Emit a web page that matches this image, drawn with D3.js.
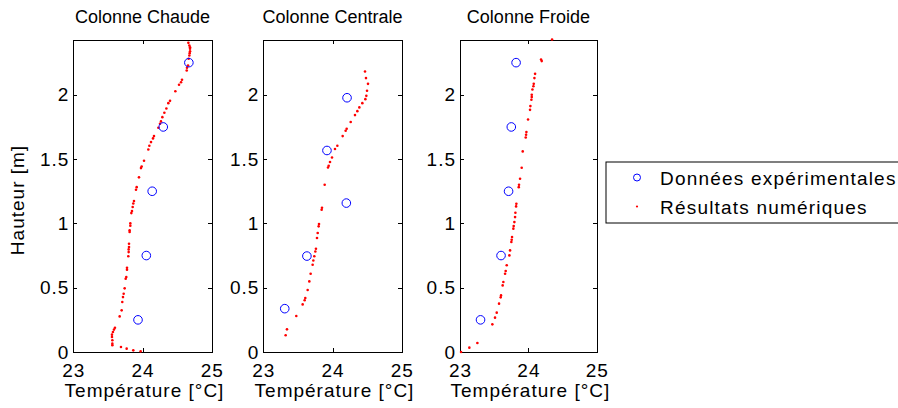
<!DOCTYPE html>
<html lang="fr">
<head>
  <meta charset="UTF-8">
  <title>Températures des colonnes</title>
  <style>
    body { margin: 0; background: #fff; }
    svg { display: block; font-family: "Liberation Sans", Arial, sans-serif; }
    .axis path, .axis line { stroke: #000; stroke-width: 1; shape-rendering: crispEdges; }
    .axis text { font-size: 19px; letter-spacing: 1px; fill: #000; }
    .title { font-size: 18px; fill: #000; }
    .label { font-size: 19px; letter-spacing: 1px; fill: #000; }
    .leg { letter-spacing: 1.2px; }
    .exp { fill: none; stroke: #0000ff; stroke-width: 1; }
    .num { fill: #ff0000; }
  </style>
</head>
<body>
  <script src="https://d3js.org/d3.v7.min.js"></script>
  <script>
    // tick values
    const xTicks = [23, 24, 25];
    const yTicks = [0, 0.5, 1, 1.5, 2];
    const titles = ['Colonne Chaude', 'Colonne Centrale', 'Colonne Froide'];
    const legendLabels = ['Données expérimentales', 'Résultats numériques'];

    // Colonne Chaude
    const chaudeExpT = [23.935, 24.055, 24.14, 24.30, 24.67];
    const chaudeExpH = [0.25, 0.75, 1.25, 1.75, 2.25];
    const chaudeNumT = [24.663, 24.677, 24.687, 24.687, 24.687, 24.682, 24.677, 24.667, 24.658, 24.643,
      24.639, 24.571, 24.557, 24.528, 24.475, 24.398, 24.373, 24.345, 24.316, 24.287,
      24.267, 24.253, 24.229, 24.166, 24.152, 24.123, 24.099, 24.084, 24.022, 23.988,
      23.978, 23.949, 23.916, 23.906, 23.877, 23.867, 23.858, 23.848, 23.839, 23.824,
      23.824, 23.814, 23.814, 23.805, 23.805, 23.800, 23.800, 23.795, 23.776, 23.776,
      23.766, 23.757, 23.742, 23.728, 23.718, 23.708, 23.699, 23.670, 23.602, 23.588,
      23.573, 23.559, 23.559, 23.564, 23.564, 23.564, 23.689, 23.771, 23.867, 23.973];
    const chaudeNumH = [2.404, 2.383, 2.370, 2.358, 2.339, 2.324, 2.306, 2.280, 2.228, 2.210,
      2.189, 2.117, 2.098, 2.078, 2.028, 1.953, 1.935, 1.894, 1.860, 1.826,
      1.793, 1.775, 1.744, 1.679, 1.661, 1.632, 1.604, 1.575, 1.487, 1.443,
      1.430, 1.358, 1.282, 1.262, 1.174, 1.155, 1.127, 1.096, 1.080, 1.000,
      0.982, 0.946, 0.933, 0.842, 0.816, 0.798, 0.777, 0.744, 0.655, 0.640,
      0.583, 0.570, 0.495, 0.453, 0.427, 0.389, 0.324, 0.277, 0.189, 0.174,
      0.155, 0.135, 0.117, 0.091, 0.065, 0.052, 0.039, 0.026, 0.013, 0.005];

    // Colonne Centrale
    const centraleExpT = [23.31, 23.63, 24.20, 23.92, 24.21];
    const centraleExpH = [0.337, 0.746, 1.158, 1.567, 1.977];
    const centraleNumT = [24.470, 24.484, 24.513, 24.499, 24.489, 24.475, 24.431, 24.388, 24.359, 24.325,
      24.263, 24.205, 24.190, 24.147, 24.070, 24.036, 23.993, 23.964, 23.945, 23.935,
      23.887, 23.848, 23.843, 23.805, 23.800, 23.786, 23.776, 23.761, 23.752, 23.737,
      23.723, 23.713, 23.684, 23.665, 23.641, 23.607, 23.598, 23.569, 23.477, 23.342, 23.323];
    const centraleNumH = [2.181, 2.130, 2.085, 2.031, 1.992, 1.966, 1.935, 1.902, 1.873, 1.842,
      1.788, 1.736, 1.720, 1.679, 1.604, 1.578, 1.513, 1.477, 1.448, 1.435,
      1.301, 1.122, 1.106, 0.995, 0.977, 0.925, 0.886, 0.803, 0.782, 0.744,
      0.712, 0.679, 0.609, 0.549, 0.482, 0.420, 0.402, 0.370, 0.280, 0.176, 0.130];

    // Colonne Froide
    const froideExpT = [23.30, 23.60, 23.71, 23.75, 23.82];
    const froideExpH = [0.25, 0.75, 1.25, 1.75, 2.25];
    const froideNumT = [24.346, 24.185, 24.195, 24.098, 24.088, 24.078, 24.073, 24.059, 24.049, 24.049,
      24.044, 24.029, 24.024, 23.995, 23.971, 23.966, 23.961, 23.917, 23.902, 23.878,
      23.863, 23.859, 23.824, 23.820, 23.810, 23.805, 23.795, 23.785, 23.780, 23.761,
      23.756, 23.751, 23.732, 23.722, 23.683, 23.668, 23.659, 23.634, 23.624, 23.600,
      23.595, 23.571, 23.537, 23.512, 23.473, 23.254, 23.137, 23.015];
    const froideNumH = [2.430, 2.275, 2.262, 2.163, 2.130, 2.085, 2.067, 2.041, 2.000, 1.982,
      1.961, 1.912, 1.883, 1.808, 1.710, 1.689, 1.668, 1.560, 1.433, 1.347,
      1.301, 1.282, 1.153, 1.132, 1.083, 1.049, 1.010, 0.979, 0.959, 0.894,
      0.873, 0.855, 0.790, 0.751, 0.674, 0.630, 0.609, 0.544, 0.518, 0.440,
      0.425, 0.376, 0.306, 0.267, 0.215, 0.070, 0.034, 0.000];

    const WIDTH = 898;
    const HEIGHT = 408;
    const panelLeft = [73.3, 263.3, 460];
    const panelWidth = [138.4, 138.4, 136.8];
    const panelTop = 39.5;
    const panelBottom = 352;

    const svg = d3.select('body').append('svg')
      .attr('width', WIDTH)
      .attr('height', HEIGHT)
      .attr('viewBox', `0 0 ${WIDTH} ${HEIGHT}`);

    const pairs = (xs, ys) => xs.map((x, i) => [x, ys[i]]);

    const panels = [
      { exp: pairs(chaudeExpT, chaudeExpH), num: pairs(chaudeNumT, chaudeNumH) },
      { exp: pairs(centraleExpT, centraleExpH), num: pairs(centraleNumT, centraleNumH) },
      { exp: pairs(froideExpT, froideExpH), num: pairs(froideNumT, froideNumH) }
    ];

    function drawPanel (p, i) {
      const x0 = panelLeft[i];
      const w = panelWidth[i];
      const h = panelBottom - panelTop;
      const x = d3.scaleLinear().domain([23, 25]).range([0, w]);
      const y = d3.scaleLinear().domain([0, 2.43]).range([h, 0]);

      const g = svg.append('g').attr('transform', `translate(${x0},${panelTop})`);

      // box with inside ticks (MATLAB style)
      g.append('g').attr('class', 'axis')
        .attr('transform', `translate(0,${h})`)
        .call(d3.axisBottom(x).tickValues(xTicks).tickSizeInner(-4).tickSizeOuter(0)
          .tickPadding(11.5).tickFormat(d3.format('d')));
      g.append('g').attr('class', 'axis')
        .call(d3.axisTop(x).tickValues(xTicks).tickSizeInner(-4).tickSizeOuter(0).tickFormat(''));
      g.append('g').attr('class', 'axis')
        .call(d3.axisLeft(y).tickValues(yTicks).tickSizeInner(-4).tickSizeOuter(0)
          .tickPadding(4).tickFormat(d => String(d)));
      g.append('g').attr('class', 'axis')
        .attr('transform', `translate(${w},0)`)
        .call(d3.axisRight(y).tickValues(yTicks).tickSizeInner(-4).tickSizeOuter(0).tickFormat(''));
      g.selectAll('.axis .domain').attr('fill', 'none');

      g.selectAll('circle.num')
        .data(p.num)
        .enter()
        .append('circle')
          .attr('class', 'num')
          .attr('cx', d => x(d[0]))
          .attr('cy', d => y(d[1]))
          .attr('r', 1.3);

      g.selectAll('circle.exp')
        .data(p.exp)
        .enter()
        .append('circle')
          .attr('class', 'exp')
          .attr('cx', d => x(d[0]))
          .attr('cy', d => y(d[1]))
          .attr('r', 4.3);

      svg.append('text')
        .attr('class', 'title')
        .attr('x', x0 + w / 2)
        .attr('y', 23.3)
        .attr('text-anchor', 'middle')
        .text(titles[i]);

      svg.append('text')
        .attr('class', 'label')
        .attr('x', x0 + w / 2 + 2)
        .attr('y', 397)
        .attr('text-anchor', 'middle')
        .text('Température [°C]');
    }

    panels.forEach(drawPanel);

    // y label
    svg.append('text')
      .attr('class', 'label')
      .attr('transform', 'translate(23.5,200) rotate(-90)')
      .attr('text-anchor', 'middle')
      .text('Hauteur [m]');

    // legend
    const legend = svg.append('g').attr('transform', 'translate(606,162)');
    legend.append('rect')
      .attr('width', 320)
      .attr('height', 61)
      .attr('fill', '#fff')
      .attr('stroke', '#000')
      .attr('stroke-width', 1);
    legend.append('circle').attr('class', 'exp').attr('cx', 31).attr('cy', 15.5).attr('r', 3.5);
    legend.append('circle').attr('class', 'num').attr('cx', 31).attr('cy', 44.5).attr('r', 1.1);
    legend.selectAll('text.leg')
      .data(legendLabels)
      .enter()
      .append('text')
        .attr('class', 'label leg')
        .attr('x', 54)
        .attr('y', (d, i) => 23 + i * 29)
        .text(d => d);
  </script>
</body>
</html>
